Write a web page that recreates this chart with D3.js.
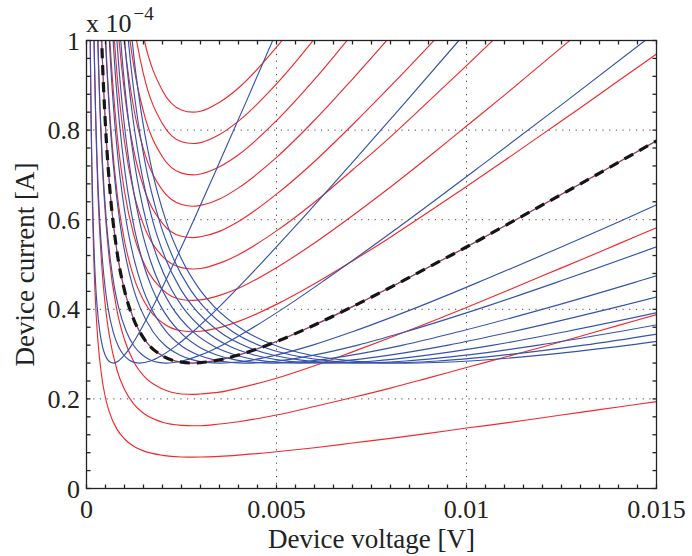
<!DOCTYPE html>
<html>
<head>
<meta charset="utf-8">
<script src="https://cdn.jsdelivr.net/npm/d3@7"></script>
<style>
  body { margin: 0; background: #fff; }
  text { font-family: "Liberation Serif", "Times New Roman", serif; fill: #222; }
</style>
</head>
<body>
<svg id="chart" width="692" height="556"></svg>
<script>
// Axis ticks (voltage in mV internally, labelled in V; current in units of 1e-4 A)
const xTicks = [0, 5, 10, 15];
const xTickLabels = ["0", "0.005", "0.01", "0.015"];
const yTicks = [0, 0.2, 0.4, 0.6, 0.8, 1];
const yTickLabels = ["0", "0.2", "0.4", "0.6", "0.8", "1"];

// Red family: shared voltage grid (mV) and one current list per curve
const redVoltage = [0.09, 0.1, 0.12, 0.15, 0.2, 0.25, 0.3, 0.4, 0.5, 0.6, 0.8, 1.0, 1.25, 1.5, 2, 2.5, 2.8, 3, 3.5, 4, 5, 6, 7, 8, 9, 10, 11, 12, 13, 14, 15];
const redCurrents = [
  [1.090, 0.981, 0.818, 0.655, 0.4925, 0.395, 0.330, 0.250, 0.202, 0.171, 0.1325, 0.1105, 0.094, 0.084, 0.074, 0.0704, 0.070, 0.0702, 0.0718, 0.0745, 0.082, 0.091, 0.1015, 0.112, 0.123, 0.135, 0.146, 0.158, 0.170, 0.182, 0.194],
  [2.180, 1.963, 1.636, 1.310, 0.985, 0.790, 0.661, 0.500, 0.404, 0.342, 0.265, 0.221, 0.188, 0.168, 0.148, 0.141, 0.140, 0.140, 0.144, 0.149, 0.164, 0.183, 0.203, 0.224, 0.247, 0.270, 0.293, 0.316, 0.340, 0.364, 0.388],
  [3.270, 2.944, 2.455, 1.966, 1.478, 1.185, 0.991, 0.750, 0.607, 0.512, 0.398, 0.332, 0.282, 0.252, 0.222, 0.211, 0.210, 0.211, 0.215, 0.224, 0.246, 0.274, 0.305, 0.337, 0.370, 0.404, 0.439, 0.475, 0.510, 0.546, 0.582],
  [4.360, 3.925, 3.273, 2.621, 1.970, 1.580, 1.322, 1.000, 0.809, 0.683, 0.530, 0.442, 0.376, 0.336, 0.296, 0.282, 0.280, 0.281, 0.287, 0.298, 0.328, 0.365, 0.406, 0.449, 0.494, 0.539, 0.586, 0.633, 0.680, 0.728, 0.776],
  [5.450, 4.906, 4.091, 3.276, 2.463, 1.976, 1.652, 1.250, 1.011, 0.854, 0.663, 0.553, 0.470, 0.420, 0.370, 0.352, 0.350, 0.351, 0.359, 0.373, 0.411, 0.457, 0.508, 0.561, 0.617, 0.674, 0.732, 0.791, 0.850, 0.910, 0.970],
  [6.540, 5.888, 4.909, 3.931, 2.955, 2.371, 1.982, 1.500, 1.213, 1.025, 0.795, 0.663, 0.564, 0.505, 0.444, 0.422, 0.420, 0.421, 0.431, 0.447, 0.493, 0.548, 0.609, 0.673, 0.740, 0.809, 0.878, 0.949, 1.020, 1.092, 1.164],
  [7.630, 6.869, 5.727, 4.586, 3.448, 2.766, 2.313, 1.750, 1.415, 1.196, 0.928, 0.774, 0.658, 0.589, 0.518, 0.493, 0.490, 0.491, 0.503, 0.522, 0.575, 0.639, 0.711, 0.785, 0.864, 0.944, 1.025, 1.107, 1.190, 1.274, 1.358],
  [8.720, 7.850, 6.546, 5.242, 3.940, 3.161, 2.643, 2.000, 1.618, 1.366, 1.060, 0.884, 0.752, 0.673, 0.592, 0.563, 0.560, 0.562, 0.574, 0.596, 0.657, 0.730, 0.812, 0.898, 0.987, 1.078, 1.171, 1.266, 1.360, 1.456, 1.552],
  [9.810, 8.832, 7.364, 5.897, 4.433, 3.556, 2.974, 2.250, 1.820, 1.537, 1.193, 0.995, 0.846, 0.757, 0.666, 0.634, 0.630, 0.632, 0.646, 0.671, 0.739, 0.822, 0.914, 1.010, 1.111, 1.213, 1.318, 1.424, 1.530, 1.638, 1.746],
  [10.90, 9.813, 8.182, 6.552, 4.925, 3.951, 3.304, 2.500, 2.022, 1.708, 1.325, 1.105, 0.940, 0.841, 0.740, 0.704, 0.700, 0.702, 0.718, 0.745, 0.821, 0.913, 1.015, 1.122, 1.234, 1.348, 1.464, 1.582, 1.700, 1.820, 1.940],
  [11.99, 10.79, 9.000, 7.207, 5.418, 4.346, 3.634, 2.750, 2.224, 1.879, 1.458, 1.216, 1.034, 0.925, 0.814, 0.774, 0.770, 0.772, 0.790, 0.820, 0.903, 1.004, 1.117, 1.234, 1.357, 1.483, 1.610, 1.740, 1.870, 2.002, 2.134],
  [13.08, 11.78, 9.818, 7.862, 5.910, 4.741, 3.965, 3.000, 2.426, 2.050, 1.590, 1.326, 1.128, 1.009, 0.888, 0.845, 0.840, 0.842, 0.862, 0.894, 0.985, 1.096, 1.218, 1.346, 1.481, 1.618, 1.757, 1.898, 2.040, 2.184, 2.328]
];

// Blue family: every curve passes through the same current levels, at its own voltages (mV)
const blueCurrent = [1.095, 1.020, 0.954, 0.847, 0.728, 0.595, 0.509, 0.449, 0.406, 0.350, 0.317, 0.298, 0.287, 0.2816, 0.280, 0.2847, 0.296, 0.320, 0.350, 0.406, 0.467, 0.595, 0.728, 0.863, 1.000, 1.069];
const blueVoltages = [
  [0.091, 0.098, 0.105, 0.119, 0.14, 0.175, 0.21, 0.245, 0.28, 0.35, 0.42, 0.49, 0.56, 0.63, 0.7, 0.84, 0.98, 1.19, 1.4, 1.75, 2.1, 2.8, 3.5, 4.2, 4.9, 5.25],
  [0.182, 0.196, 0.21, 0.238, 0.28, 0.35, 0.42, 0.49, 0.56, 0.7, 0.84, 0.98, 1.12, 1.26, 1.4, 1.68, 1.96, 2.38, 2.8, 3.5, 4.2, 5.6, 7.0, 8.4, 9.8, 10.5],
  [0.273, 0.294, 0.315, 0.357, 0.42, 0.525, 0.63, 0.735, 0.84, 1.05, 1.26, 1.47, 1.68, 1.89, 2.1, 2.52, 2.94, 3.57, 4.2, 5.25, 6.3, 8.4, 10.5, 12.6, 14.7, 15.75],
  [0.364, 0.392, 0.42, 0.476, 0.56, 0.7, 0.84, 0.98, 1.12, 1.4, 1.68, 1.96, 2.24, 2.52, 2.8, 3.36, 3.92, 4.76, 5.6, 7.0, 8.4, 11.2, 14.0, 16.8, 19.6, 21.0],
  [0.455, 0.49, 0.525, 0.595, 0.7, 0.875, 1.05, 1.225, 1.4, 1.75, 2.1, 2.45, 2.8, 3.15, 3.5, 4.2, 4.9, 5.95, 7.0, 8.75, 10.5, 14.0, 17.5, 21.0, 24.5, 26.25],
  [0.546, 0.588, 0.63, 0.714, 0.84, 1.05, 1.26, 1.47, 1.68, 2.1, 2.52, 2.94, 3.36, 3.78, 4.2, 5.04, 5.88, 7.14, 8.4, 10.5, 12.6, 16.8, 21.0, 25.2, 29.4, 31.5],
  [0.637, 0.686, 0.735, 0.833, 0.98, 1.225, 1.47, 1.715, 1.96, 2.45, 2.94, 3.43, 3.92, 4.41, 4.9, 5.88, 6.86, 8.33, 9.8, 12.25, 14.7, 19.6, 24.5, 29.4, 34.3, 36.75],
  [0.728, 0.784, 0.84, 0.952, 1.12, 1.4, 1.68, 1.96, 2.24, 2.8, 3.36, 3.92, 4.48, 5.04, 5.6, 6.72, 7.84, 9.52, 11.2, 14.0, 16.8, 22.4, 28.0, 33.6, 39.2, 42.0],
  [0.819, 0.882, 0.945, 1.071, 1.26, 1.575, 1.89, 2.205, 2.52, 3.15, 3.78, 4.41, 5.04, 5.67, 6.3, 7.56, 8.82, 10.71, 12.6, 15.75, 18.9, 25.2, 31.5, 37.8, 44.1, 47.25],
  [0.91, 0.98, 1.05, 1.19, 1.4, 1.75, 2.1, 2.45, 2.8, 3.5, 4.2, 4.9, 5.6, 6.3, 7.0, 8.4, 9.8, 11.9, 14.0, 17.5, 21.0, 28.0, 35.0, 42.0, 49.0, 52.5],
  [1.001, 1.078, 1.155, 1.309, 1.54, 1.925, 2.31, 2.695, 3.08, 3.85, 4.62, 5.39, 6.16, 6.93, 7.7, 9.24, 10.78, 13.09, 15.4, 19.25, 23.1, 30.8, 38.5, 46.2, 53.9, 57.75],
  [1.092, 1.176, 1.26, 1.428, 1.68, 2.1, 2.52, 2.94, 3.36, 4.2, 5.04, 5.88, 6.72, 7.56, 8.4, 10.08, 11.76, 14.28, 16.8, 21.0, 25.2, 33.6, 42.0, 50.4, 58.8, 63.0]
];

// Index of the curve shared by both families, traced with the dashed line
const optimumIndex = 3;

const svg = d3.select("#chart");
const plot = { left: 86.5, right: 656.5, top: 40.5, bottom: 488.5 };

const x = d3.scaleLinear().domain([0, 15]).range([plot.left, plot.right]);
const y = d3.scaleLinear().domain([0, 1]).range([plot.bottom, plot.top]);

svg.append("defs").append("clipPath").attr("id", "plotClip")
  .append("rect")
  .attr("x", plot.left).attr("y", plot.top)
  .attr("width", plot.right - plot.left).attr("height", plot.bottom - plot.top);

// Dotted grid at the labelled ticks
const grid = svg.append("g").attr("stroke", "#444").attr("stroke-width", 1)
  .attr("stroke-dasharray", "1.2,5.5");
xTicks.filter(v => v > 0 && v < 15).forEach(v => {
  grid.append("line").attr("x1", x(v)).attr("x2", x(v)).attr("y1", plot.top).attr("y2", plot.bottom);
});
yTicks.filter(v => v > 0 && v < 1).forEach(v => {
  grid.append("line").attr("x1", plot.left).attr("x2", plot.right).attr("y1", y(v)).attr("y2", y(v));
});

const line = d3.line()
  .x(d => x(d[0]))
  .y(d => y(d[1]))
  .curve(d3.curveMonotoneX);

const curves = svg.append("g").attr("clip-path", "url(#plotClip)").attr("fill", "none");

const redColor = "#f02a2e";
const blueColor = "#3553ad";

redCurrents.forEach(series => {
  curves.append("path")
    .attr("d", line(redVoltage.map((v, i) => [v, series[i]])))
    .attr("stroke", redColor).attr("stroke-width", 1.15);
});

blueVoltages.forEach((volts, j) => {
  curves.append("path")
    .attr("d", line(volts.map((v, i) => [v, blueCurrent[i]])))
    .attr("stroke", blueColor).attr("stroke-width", 1.15)
    .attr("stroke-opacity", j === optimumIndex ? 0.6 : 1);
});

// Dashed trace along the shared curve
curves.append("path")
  .attr("d", line(redVoltage.map((v, i) => [v, redCurrents[optimumIndex][i]])))
  .attr("stroke", "#151515").attr("stroke-width", 3.2)
  .attr("stroke-dasharray", "10,7");

// Box and inward ticks on all four sides
const frame = svg.append("g").attr("stroke", "#222").attr("stroke-width", 1.3).attr("fill", "none");
frame.append("rect")
  .attr("x", plot.left).attr("y", plot.top)
  .attr("width", plot.right - plot.left).attr("height", plot.bottom - plot.top);

const tickLen = 4;
const xMinor = d3.range(0, 15.0001, 0.5);
const yMinor = d3.range(0, 1.0001, 0.04);
xMinor.forEach(v => {
  frame.append("line").attr("x1", x(v)).attr("x2", x(v)).attr("y1", plot.bottom).attr("y2", plot.bottom - tickLen);
  frame.append("line").attr("x1", x(v)).attr("x2", x(v)).attr("y1", plot.top).attr("y2", plot.top + tickLen);
});
yMinor.forEach(v => {
  frame.append("line").attr("x1", plot.left).attr("x2", plot.left + tickLen).attr("y1", y(v)).attr("y2", y(v));
  frame.append("line").attr("x1", plot.right).attr("x2", plot.right - tickLen).attr("y1", y(v)).attr("y2", y(v));
});

// Tick labels
const fontSize = 26;
const titleSize = 27;
xTicks.forEach((v, i) => {
  svg.append("text").attr("x", x(v)).attr("y", 518)
    .attr("text-anchor", "middle").attr("font-size", fontSize)
    .text(xTickLabels[i]);
});
yTicks.forEach((v, i) => {
  svg.append("text").attr("x", 80).attr("y", y(v) + 9)
    .attr("text-anchor", "end").attr("font-size", fontSize)
    .text(yTickLabels[i]);
});

// Exponent multiplier above the y axis
const mult = svg.append("text").attr("x", 86).attr("y", 31.5).attr("font-size", fontSize);
mult.append("tspan").text("x 10");
mult.append("tspan").attr("dx", 2).attr("dy", -12).attr("font-size", 19).text("\u22124");

// Axis titles
svg.append("text").attr("x", (plot.left + plot.right) / 2).attr("y", 548)
  .attr("text-anchor", "middle").attr("font-size", titleSize)
  .text("Device voltage [V]");
svg.append("text")
  .attr("transform", `translate(34,${(plot.top + plot.bottom) / 2}) rotate(-90)`)
  .attr("text-anchor", "middle").attr("font-size", titleSize)
  .text("Device current [A]");
</script>
</body>
</html>
